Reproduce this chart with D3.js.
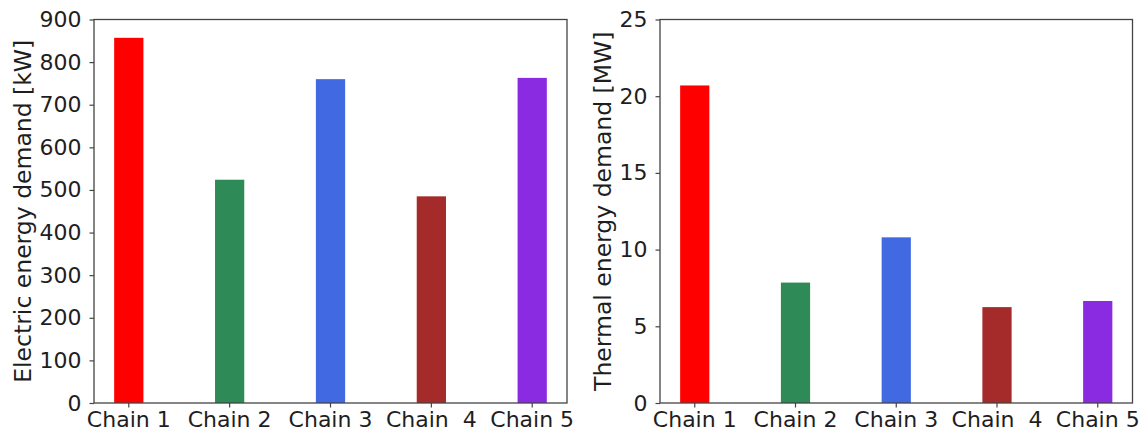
<!DOCTYPE html>
<html>
<head>
<meta charset="utf-8">
<script src="https://cdn.jsdelivr.net/npm/d3@7"></script>
<style>
  body { margin: 0; background: #fff; }
  svg text { font-family: "DejaVu Sans", sans-serif; fill: #1e1e1e; }
</style>
</head>
<body>
<div id="chart"></div>
<script>
var chains = ['Chain 1', 'Chain 2', 'Chain 3', 'Chain  4', 'Chain 5'];
var colors = ['#ff0000', '#2e8b57', '#4169e1', '#a52a2a', '#8a2be2'];
var electric = [857, 524, 760, 485, 763];
var thermal = [20.7, 7.85, 10.8, 6.25, 6.65];
var electricTicks = [0, 100, 200, 300, 400, 500, 600, 700, 800, 900];
var thermalTicks = [0, 5, 10, 15, 20, 25];

var svg = d3.select('#chart')
  .append('svg')
    .attr('width', 1145)
    .attr('height', 432);

function panel(left, right, values, ymax, ticks, label, labelX) {
  var top = 19.5, bottom = 403;
  var x = d3.scaleBand()
    .domain(chains)
    .range([left, right])
    .paddingInner(0.71)
    .paddingOuter(0.2);
  var y = d3.scaleLinear()
    .domain([0, ymax])
    .range([bottom, top]);

  var g = svg.append('g');

  g.selectAll('rect.bar')
    .data(values)
    .enter().append('rect')
      .attr('class', 'bar')
      .attr('x', function(d, i) { return x(chains[i]); })
      .attr('y', function(d) { return y(d); })
      .attr('width', x.bandwidth())
      .attr('height', function(d) { return bottom - y(d); })
      .style('fill', function(d, i) { return colors[i]; });

  // frame
  g.append('rect')
    .attr('x', left)
    .attr('y', top)
    .attr('width', right - left)
    .attr('height', bottom - top)
    .style('fill', 'none')
    .style('stroke', '#444')
    .style('stroke-width', 1.3);

  var yAxis = g.append('g')
    .attr('transform', 'translate(' + left + ',0)')
    .call(d3.axisLeft(y).tickValues(ticks).tickSize(4.5).tickPadding(8));
  yAxis.select('.domain').remove();
  yAxis.selectAll('line').style('stroke', '#444').style('stroke-width', 1.2);
  yAxis.selectAll('text')
    .style('font-size', '22px')
    .style('fill', '#1e1e1e')
    .style('font-family', '"DejaVu Sans", sans-serif');

  var xAxis = g.append('g')
    .attr('transform', 'translate(0,' + bottom + ')')
    .call(d3.axisBottom(x).tickSize(4.5).tickPadding(4));
  xAxis.select('.domain').remove();
  xAxis.selectAll('line').style('stroke', '#444').style('stroke-width', 1.2);
  xAxis.selectAll('text')
    .style('font-size', '22px')
    .style('fill', '#1e1e1e')
    .style('white-space', 'pre')
    .style('font-family', '"DejaVu Sans", sans-serif');

  g.append('text')
    .attr('transform', 'translate(' + labelX + ',' + ((top + bottom) / 2) + ') rotate(-90)')
    .attr('text-anchor', 'middle')
    .attr('dy', '0.35em')
    .style('font-size', '23.5px')
    .text(label);
}

panel(94, 567, electric, 900, electricTicks, 'Electric energy demand [kW]', 23);
panel(660, 1132.5, thermal, 25, thermalTicks, 'Thermal energy demand [MW]', 603);
</script>
</body>
</html>
